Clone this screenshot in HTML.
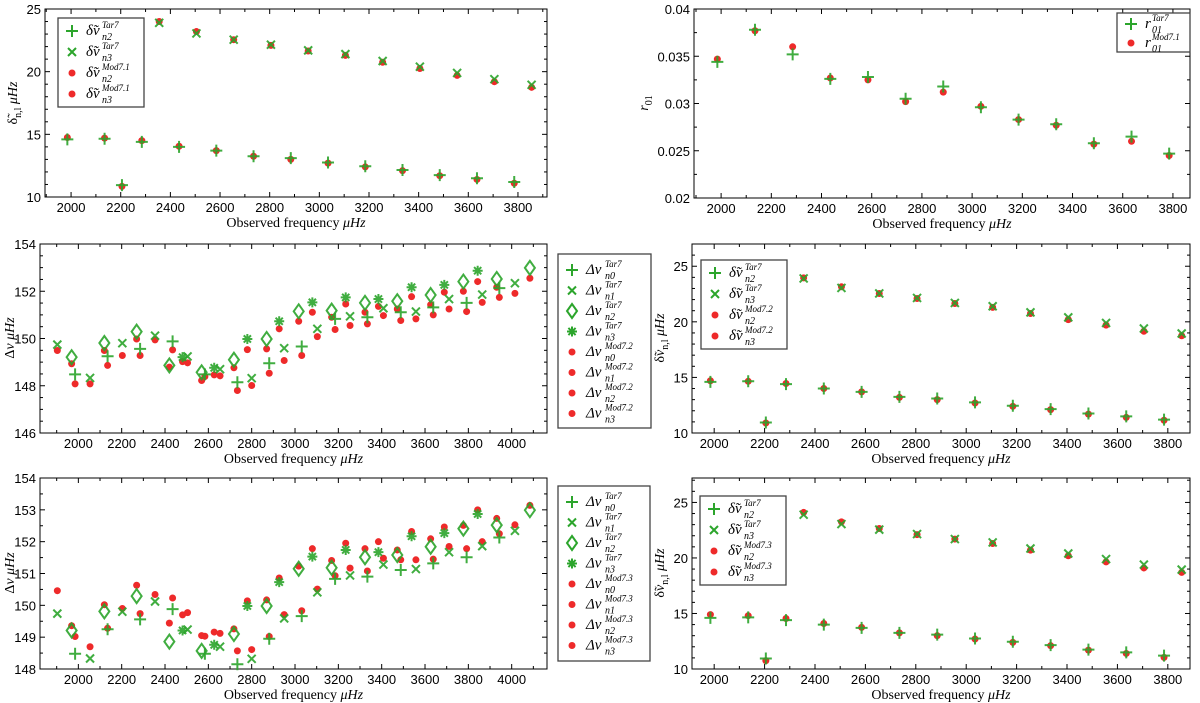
<!DOCTYPE html>
<html><head><meta charset="utf-8">
<style>
html,body{margin:0;padding:0;background:#fff;}
svg{display:block;}
text{font-family:"Liberation Sans",sans-serif;}
.ser{font-family:"Liberation Serif","DejaVu Serif",serif;}
</style></head>
<body>
<svg id="fig" width="1200" height="703" viewBox="0 0 1200 703" xmlns="http://www.w3.org/2000/svg"></svg>
<script>
// ---------- DATA ----------
const f02 = [1985,2135,2205,2285,2435,2585,2735,2885,3035,3185,3335,3485,3635,3785];
const d02Tar = [14.6,14.65,10.95,14.4,14.0,13.7,13.25,13.1,12.75,12.45,12.15,11.75,11.5,11.2];
const d02Mod1 = [14.75,14.7,10.85,14.5,14.05,13.7,13.25,13.0,12.7,12.4,12.1,11.7,11.4,11.1];
const d02Mod2 = [14.7,14.65,10.9,14.45,14.0,13.7,13.2,13.0,12.7,12.4,12.1,11.7,11.4,11.15];
const d02Mod3 = [14.9,14.8,10.75,14.55,14.1,13.75,13.25,13.0,12.7,12.4,12.1,11.7,11.4,11.05];
const f13 = [2355,2505,2655,2805,2955,3105,3255,3405,3555,3705,3855];
const d13Tar = [23.9,23.05,22.55,22.15,21.7,21.4,20.85,20.4,19.9,19.4,18.95];
const d13Mod1 = [24.0,23.2,22.55,22.1,21.65,21.3,20.75,20.25,19.7,19.2,18.75];
const d13Mod2 = [23.95,23.15,22.55,22.1,21.65,21.3,20.75,20.2,19.7,19.15,18.75];
const d13Mod3 = [24.1,23.25,22.65,22.1,21.7,21.3,20.7,20.2,19.65,19.1,18.7];
const fR = [1985,2135,2285,2435,2585,2735,2885,3035,3185,3335,3485,3635,3785];
const r01Tar = [0.0344,0.0378,0.0352,0.0326,0.0328,0.0305,0.0318,0.0296,0.0283,0.0278,0.0258,0.0265,0.0247];
const r01Mod = [0.0347,0.0377,0.0360,0.0327,0.0325,0.0302,0.0312,0.0297,0.0283,0.0277,0.0257,0.0260,0.0245];
const fN0 = [1985,2135,2285,2435,2584,2734,2881,3031,3185,3334,3488,3638,3792,3943];
const dN0Tar = [148.48,149.25,149.56,149.88,148.48,148.15,148.95,149.66,150.83,150.9,151.11,151.32,151.51,152.13];
const dN0Mod2 = [148.08,148.86,149.28,149.52,148.39,147.80,148.53,149.28,150.38,150.62,150.76,151.0,151.14,151.74];
const dN0Mod3 = [149.02,149.28,149.74,150.23,149.03,148.57,149.02,149.83,150.93,151.08,151.43,151.45,151.78,152.25];
const fN1 = [1903,2054,2203,2354,2504,2654,2800,2950,3103,3254,3408,3558,3711,3864,4015];
const dN1Tar = [149.74,148.33,149.8,150.12,149.24,148.7,148.32,149.59,150.41,150.94,151.28,151.14,151.67,151.86,152.34];
const dN1Mod2 = [149.49,148.08,149.28,149.94,148.97,148.42,148.01,149.07,150.08,150.55,150.97,150.83,151.25,151.53,151.91];
const dN1Mod3 = [150.46,148.70,149.90,150.34,149.77,149.12,148.61,149.71,150.51,151.17,151.48,151.43,151.85,152.0,152.53];
const fN2 = [1969,2120,2269,2420,2569,2718,2869,3017,3169,3323,3472,3626,3777,3931,4084];
const dN2Tar = [149.21,149.81,150.29,148.86,148.57,149.1,149.98,151.15,151.18,151.51,151.58,151.84,152.41,152.52,152.99];
const dN2Mod2 = [148.93,149.49,149.98,148.79,148.22,148.76,149.56,150.73,150.9,151.11,151.25,151.43,152.0,152.17,152.55];
const dN2Mod3 = [149.36,150.02,150.63,149.44,149.05,149.26,150.17,151.23,151.41,151.78,151.74,152.09,152.51,152.73,153.14];
const fN3 = [2481,2627,2780,2927,3080,3234,3385,3538,3689,3843];
const dN3Tar = [149.21,148.76,149.98,150.73,151.53,151.74,151.67,152.17,152.27,152.87];
const dN3Mod2 = [149.02,148.46,149.53,150.41,151.11,151.46,151.36,151.77,151.96,152.41];
const dN3Mod3 = [149.70,149.16,150.14,150.86,151.78,151.95,152.0,152.32,152.46,153.0];
const xTicksA = [2000,2200,2400,2600,2800,3000,3200,3400,3600,3800];
const xTicksC = [2000,2200,2400,2600,2800,3000,3200,3400,3600,3800,4000];
const yTicksA = [10,15,20,25];
const yTicksB = [0.02,0.025,0.03,0.035,0.04];
const yTicksC = [146,148,150,152,154];
const yTicksE = [148,149,150,151,152,153,154];
const yTicksD = [10,15,20,25];

// ---------- DRAWING ----------
const NS="http://www.w3.org/2000/svg";
const svg=document.getElementById('fig');
const G="#2ca52c", R="#ee2a2a";
function el(tag,attrs,parent){const e=document.createElementNS(NS,tag);for(const k in attrs)e.setAttribute(k,attrs[k]);(parent||svg).appendChild(e);return e;}
function mkAxis(x0,x1,y0,y1,xmin,xmax,ymin,ymax){
  return {sx:v=>x0+(v-xmin)/(xmax-xmin)*(x1-x0), sy:v=>y1-(v-ymin)/(ymax-ymin)*(y1-y0), x0,x1,y0,y1};
}
function frame(ax,xt,yt,xminor,yminor,xmin,xmax,ymin,ymax,fmt,name){
  const g=el('g',{});
  
  
  el('rect',{x:ax.x0,y:ax.y0,width:ax.x1-ax.x0,height:ax.y1-ax.y0,fill:'none',stroke:'#000','stroke-width':1},g);
  for(let v=Math.ceil(xmin/xminor)*xminor; v<=xmax; v+=xminor){
    const x=ax.sx(v); const major=xt.some(t=>Math.abs(t-v)<1e-6); const L=major?5:3;
    el('line',{x1:x,x2:x,y1:ax.y1,y2:ax.y1-L,stroke:'#000','stroke-width':1},g);
    el('line',{x1:x,x2:x,y1:ax.y0,y2:ax.y0+L,stroke:'#000','stroke-width':1},g);
  }
  for(let i=0;;i++){const v=ymin+i*yminor; if(v>ymax+1e-9)break;
    const y=ax.sy(v); const major=yt.some(t=>Math.abs(t-v)<1e-9); const L=major?5:3;
    el('line',{x1:ax.x0,x2:ax.x0+L,y1:y,y2:y,stroke:'#000','stroke-width':1},g);
    el('line',{x1:ax.x1,x2:ax.x1-L,y1:y,y2:y,stroke:'#000','stroke-width':1},g);
  }
  xt.forEach(t=>{const tx=el('text',{x:ax.sx(t),y:ax.y1+15,'font-size':13,'text-anchor':'middle'},g);tx.textContent=t;
    
    });
  yt.forEach(t=>{const tx=el('text',{x:ax.x0-4,y:ax.sy(t)+5,'font-size':13,'text-anchor':'end'},g);tx.textContent=fmt(t);
    
    });
  const xl=el('text',{x:(ax.x0+ax.x1)/2,y:ax.y1+30,'font-size':14,'text-anchor':'middle',class:'ser'},g);
  xl.innerHTML='Observed frequency <tspan font-style="italic">μHz</tspan>';
  
  
}
function marker(type,x,y,color,parent){
  const s={stroke:color,'stroke-width':2,fill:'none'};
  if(type==='plus'){el('path',Object.assign({d:`M${x-6} ${y}H${x+6}M${x} ${y-6}V${y+6}`},s),parent);}
  else if(type==='cross'){el('path',Object.assign({d:`M${x-4} ${y-4}L${x+4} ${y+4}M${x-4} ${y+4}L${x+4} ${y-4}`},s),parent);}
  else if(type==='diamond'){el('path',Object.assign({d:`M${x} ${y-7}L${x+5} ${y}L${x} ${y+7}L${x-5} ${y}Z`},s),parent);}
  else if(type==='star'){el('path',Object.assign({d:`M${x-5} ${y}H${x+5}M${x} ${y-5}V${y+5}M${x-3.6} ${y-3.6}L${x+3.6} ${y+3.6}M${x-3.6} ${y+3.6}L${x+3.6} ${y-3.6}`},s),parent);}
  else {el('circle',{cx:x,cy:y,r:3.5,fill:color},parent);}
}
function series(ax,xs,ys,type,color,name){
  const g=el('g',{});
  
  
  if(color===G) g.setAttribute('opacity','0.9');
  xs.forEach((v,i)=>marker(type,ax.sx(v),ax.sy(ys[i]),color,g));
}
function mathLabel(parent,x,y,base,sub,sup,w){
  const t=el('text',{x:x,y:y,'font-size':15,class:'ser','font-style':'italic'},parent);
  t.textContent=base;
  const sp=el('text',{x:x+w,y:y-7,'font-size':9,class:'ser','font-style':'italic'},parent);sp.textContent=sup;
  const sb=el('text',{x:x+w,y:y+5,'font-size':10,class:'ser','font-style':'italic'},parent);sb.textContent=sub;
}
function legend(x,y,w,h,entries,name,base,step,top,bw){
  const g=el('g',{});
  
  
  el('rect',{x:x,y:y,width:w,height:h,fill:'#fff',stroke:'#444','stroke-width':1.3},g);
  entries.forEach((e,i)=>{
    const yy=y+top+i*step;
    marker(e[0],x+14,yy,e[1],g);
    mathLabel(g,x+28,yy+4,base,e[2],e[3],bw);
  });
}
function ylabel(x,y,html,name){
  const t=el('text',{x:0,y:0,'font-size':14,class:'ser','text-anchor':'middle',transform:`translate(${x},${y}) rotate(-90)`});
  t.innerHTML=html;
  
  
}
const fmt0=v=>String(v), fmtB=v=>String(v);

// Panel A
const axA=mkAxis(45,547,9,197,1895,3917,10,25);
frame(axA,xTicksA,yTicksA,100,1,1895,3917,10,25,fmt0,'panel-a');
series(axA,f02,d02Mod1,'dot',R,'series-a-d02-mod');
series(axA,f13,d13Mod1,'dot',R,'series-a-d13-mod');
series(axA,f02,d02Tar,'plus',G,'series-a-d02-tar');
series(axA,f13,d13Tar,'cross',G,'series-a-d13-tar');
legend(58,18,86,89,[['plus',G,'n2','Tar7'],['cross',G,'n3','Tar7'],['dot',R,'n2','Mod7.1'],['dot',R,'n3','Mod7.1']],'legend-a','δ̃ν',21,13,16);
ylabel(17,103,'δ̃<tspan font-size="10" dy="4">n,l</tspan><tspan dy="-4" font-style="italic"> μHz</tspan>','y-axis-title-a');

// Panel B
const axB=mkAxis(694,1190,9,198,1892,3868,0.02,0.04);
frame(axB,xTicksA,yTicksB,100,0.0025,1892,3868,0.02,0.04,fmtB,'panel-b');
series(axB,fR,r01Mod,'dot',R,'series-b-r01-mod');
series(axB,fR,r01Tar,'plus',G,'series-b-r01-tar');
legend(1117,13,73,39,[['plus',G,'01','Tar7'],['dot',R,'01','Mod7.1']],'legend-b','r',19,11,7);
ylabel(648,103,'<tspan font-style="italic">r</tspan><tspan font-size="10" dy="4">01</tspan>','y-axis-title-b');

// Panel C
const axC=mkAxis(40,547,244,433,1823,4163,146,154);
frame(axC,xTicksC,yTicksC,100,0.5,1823,4163,146,154,fmt0,'panel-c');
series(axC,fN0,dN0Mod2,'dot',R,'series-c-n0-mod');
series(axC,fN1,dN1Mod2,'dot',R,'series-c-n1-mod');
series(axC,fN2,dN2Mod2,'dot',R,'series-c-n2-mod');
series(axC,fN3,dN3Mod2,'dot',R,'series-c-n3-mod');
series(axC,fN0,dN0Tar,'plus',G,'series-c-n0-tar');
series(axC,fN1,dN1Tar,'cross',G,'series-c-n1-tar');
series(axC,fN2,dN2Tar,'diamond',G,'series-c-n2-tar');
series(axC,fN3,dN3Tar,'star',G,'series-c-n3-tar');
legend(558,254,93,174,[['plus',G,'n0','Tar7'],['cross',G,'n1','Tar7'],['diamond',G,'n2','Tar7'],['star',G,'n3','Tar7'],['dot',R,'n0','Mod7.2'],['dot',R,'n1','Mod7.2'],['dot',R,'n2','Mod7.2'],['dot',R,'n3','Mod7.2']],'legend-c','Δν',20.5,16,19);
ylabel(14,338,'Δ<tspan font-style="italic">ν μHz</tspan>','y-axis-title-c');

// Panel D
const axD=mkAxis(692,1190,244,433,1912,3888,10,27);
frame(axD,xTicksA,yTicksD,100,1,1912,3888,10,27,fmt0,'panel-d');
series(axD,f02,d02Mod2,'dot',R,'series-d-d02-mod');
series(axD,f13,d13Mod2,'dot',R,'series-d-d13-mod');
series(axD,f02,d02Tar,'plus',G,'series-d-d02-tar');
series(axD,f13,d13Tar,'cross',G,'series-d-d13-tar');
legend(701,260,86,89,[['plus',G,'n2','Tar7'],['cross',G,'n3','Tar7'],['dot',R,'n2','Mod7.2'],['dot',R,'n3','Mod7.2']],'legend-d','δ̃ν',21,13,16);
ylabel(664,338,'δ̃<tspan font-style="italic">ν</tspan><tspan font-size="10" dy="4">n,l</tspan><tspan dy="-4" font-style="italic"> μHz</tspan>','y-axis-title-d');

// Panel E
const axE=mkAxis(40,547,478,669,1823,4163,148,154);
frame(axE,xTicksC,yTicksE,100,0.5,1823,4163,148,154,fmt0,'panel-e');
series(axE,fN0,dN0Mod3,'dot',R,'series-e-n0-mod');
series(axE,fN1,dN1Mod3,'dot',R,'series-e-n1-mod');
series(axE,fN2,dN2Mod3,'dot',R,'series-e-n2-mod');
series(axE,fN3,dN3Mod3,'dot',R,'series-e-n3-mod');
series(axE,fN0,dN0Tar,'plus',G,'series-e-n0-tar');
series(axE,fN1,dN1Tar,'cross',G,'series-e-n1-tar');
series(axE,fN2,dN2Tar,'diamond',G,'series-e-n2-tar');
series(axE,fN3,dN3Tar,'star',G,'series-e-n3-tar');
legend(558,486,92,175,[['plus',G,'n0','Tar7'],['cross',G,'n1','Tar7'],['diamond',G,'n2','Tar7'],['star',G,'n3','Tar7'],['dot',R,'n0','Mod7.3'],['dot',R,'n1','Mod7.3'],['dot',R,'n2','Mod7.3'],['dot',R,'n3','Mod7.3']],'legend-e','Δν',20.5,16,19);
ylabel(14,573,'Δ<tspan font-style="italic">ν μHz</tspan>','y-axis-title-e');

// Panel F
const axF=mkAxis(692,1190,478,669,1912,3888,10,27.2);
frame(axF,xTicksA,yTicksD,100,1,1912,3888,10,27.2,fmt0,'panel-f');
series(axF,f02,d02Mod3,'dot',R,'series-f-d02-mod');
series(axF,f13,d13Mod3,'dot',R,'series-f-d13-mod');
series(axF,f02,d02Tar,'plus',G,'series-f-d02-tar');
series(axF,f13,d13Tar,'cross',G,'series-f-d13-tar');
legend(700,496,86,89,[['plus',G,'n2','Tar7'],['cross',G,'n3','Tar7'],['dot',R,'n2','Mod7.3'],['dot',R,'n3','Mod7.3']],'legend-f','δ̃ν',21,13,16);
ylabel(664,573,'δ̃<tspan font-style="italic">ν</tspan><tspan font-size="10" dy="4">n,l</tspan><tspan dy="-4" font-style="italic"> μHz</tspan>','y-axis-title-f');
</script>
</body></html>
